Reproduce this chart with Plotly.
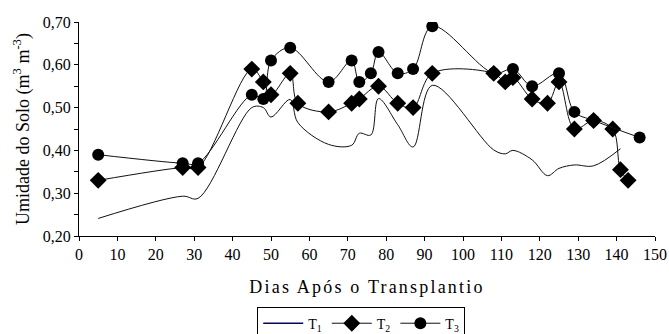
import plotly.graph_objects as go

# Days after transplanting
t1_days = [5, 27, 31, 45, 48, 50, 55, 57, 65, 71, 73, 76, 78, 83, 87, 92,
           108, 111, 113, 118, 122, 125, 129, 134, 141]
t1_vals = [0.241, 0.293, 0.288, 0.500, 0.500, 0.478, 0.519, 0.465, 0.414, 0.412,
           0.440, 0.436, 0.521, 0.460, 0.408, 0.552, 0.401, 0.392, 0.400, 0.378,
           0.341, 0.358, 0.366, 0.364, 0.404]

t2_days = [5, 27, 31, 45, 48, 50, 55, 57, 65, 71, 73, 78, 83, 87, 92,
           108, 111, 113, 118, 122, 125, 129, 134, 139, 141, 143]
t2_vals = [0.33, 0.36, 0.36, 0.59, 0.56, 0.53, 0.58, 0.51, 0.49, 0.51, 0.52,
           0.55, 0.51, 0.50, 0.58, 0.58, 0.56, 0.57, 0.52, 0.51, 0.56, 0.45,
           0.47, 0.45, 0.355, 0.33]

t3_days = [5, 27, 31, 45, 48, 50, 55, 65, 71, 73, 76, 78, 83, 87, 92,
           108, 113, 118, 125, 129, 134, 146]
t3_vals = [0.39, 0.37, 0.37, 0.53, 0.52, 0.61, 0.64, 0.56, 0.61, 0.56, 0.58,
           0.63, 0.58, 0.59, 0.69, 0.58, 0.59, 0.55, 0.58, 0.49, 0.47, 0.43]

x_ticks = list(range(0, 151, 10))
y_ticks = [0.2, 0.3, 0.4, 0.5, 0.6, 0.7]

FONT = "Liberation Serif, Times New Roman, serif"

fig = go.Figure()

fig.add_trace(go.Scatter(
    x=t1_days, y=t1_vals, mode="lines", showlegend=False,
    line=dict(color="#111111", width=1, shape="spline", smoothing=1.0),
    hoverinfo="skip"))
fig.add_trace(go.Scatter(
    x=[None], y=[None], mode="lines", name="T<sub>1</sub>",
    line=dict(color="#000080", width=1.5)))
fig.add_trace(go.Scatter(
    x=t2_days, y=t2_vals, mode="lines+markers", name="T<sub>2</sub>",
    line=dict(color="#111111", width=1, shape="spline", smoothing=1.0),
    marker=dict(symbol="diamond", size=13, color="black")))
fig.add_trace(go.Scatter(
    x=t3_days, y=t3_vals, mode="lines+markers", name="T<sub>3</sub>",
    line=dict(color="#111111", width=1, shape="spline", smoothing=1.0),
    marker=dict(symbol="circle", size=12, color="black")))

fig.update_layout(
    width=669, height=334,
    margin=dict(l=79, r=14, t=22, b=98, autoexpand=False),
    paper_bgcolor="white", plot_bgcolor="white",
    separators=",.",
    font=dict(family=FONT, size=16, color="black"),
    legend=dict(
        orientation="h", x=0.49, xanchor="center", y=-0.33, yanchor="top",
        bordercolor="black", borderwidth=1, bgcolor="white",
        font=dict(family=FONT, size=14), itemwidth=40,
        tracegroupgap=0),
)

fig.update_xaxes(
    range=[0, 150], tickvals=x_ticks, ticktext=[str(v) for v in x_ticks],
    showline=True, linecolor="black", linewidth=1,
    ticks="outside", ticklen=4, tickcolor="black",
    showgrid=False, zeroline=False, automargin=False,
    tickfont=dict(family=FONT, size=16),
    title=dict(text="Dias Após o Transplantio",
               font=dict(family=FONT, size=18), standoff=18),
)
fig.update_yaxes(
    range=[0.2, 0.7], tickvals=y_ticks, tickformat=".2f",
    showline=True, linecolor="black", linewidth=1,
    ticks="outside", ticklen=4, tickcolor="black",
    minor=dict(dtick=0.05, ticks="outside", ticklen=4, tickcolor="black",
               showgrid=False),
    showgrid=False, zeroline=False, automargin=False,
    tickfont=dict(family=FONT, size=16),
    title=dict(text="Umidade do Solo (m<sup>3</sup> m<sup>-3</sup>)",
               font=dict(family=FONT, size=18), standoff=8),
)

post = (
    "document.body.style.margin='0';"
    "document.querySelectorAll('.xtitle').forEach(function(e){"
    "e.style.letterSpacing='2.2px';});"
)
fig.write_html("out.html", post_script=post,
               config={"displayModeBar": False, "staticPlot": True})
